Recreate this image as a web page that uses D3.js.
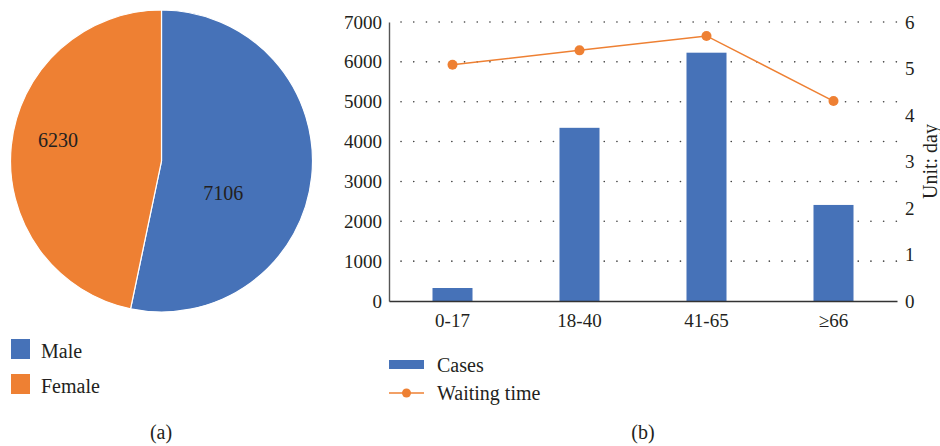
<!DOCTYPE html>
<html>
<head>
<meta charset="utf-8">
<script src="https://cdn.jsdelivr.net/npm/d3@7"></script>
<style>
  body { margin: 0; background: #fff; }
  svg text { font-family: "Liberation Serif", "DejaVu Serif", serif; fill: #231f20; }
</style>
</head>
<body>
<svg id="fig" width="940" height="446"></svg>
<script>
// pie data (a)
const genders = ["Male", "Female"];
const genderCounts = [7106, 6230];

// bar + line data (b)
const ageGroups = ["0-17", "18-40", "41-65", "≥66"];
const cases = [326, 4345, 6230, 2410];
const waitingTime = [5.08, 5.39, 5.7, 4.3];
const leftTicks = [0, 1000, 2000, 3000, 4000, 5000, 6000, 7000];
const rightTicks = [0, 1, 2, 3, 4, 5, 6];

const blue = "#4672b8";
const orange = "#ee8033";
const fontFamily = "'Liberation Serif', 'DejaVu Serif', serif";
const fontSize = 20;
const tickSize = 19;

const svg = d3.select("svg#fig");

// ---------- (a) pie ----------
const pieG = svg.append("g").attr("transform", "translate(161.5,161)");
const radius = 151;
const color = d3.scaleOrdinal(genders, [blue, orange]);

const pie = d3.pie().sort(null).value((d) => d.value);
const arcs = pie(genders.map((g, i) => ({ name: g, value: genderCounts[i] })));
const arc = d3.arc().innerRadius(0).outerRadius(radius);

pieG.selectAll("path")
  .data(arcs)
  .join("path")
  .attr("d", arc)
  .attr("fill", (d) => color(d.data.name))
  .attr("stroke", "#fff")
  .attr("stroke-width", 1.2);

// "best fit" style label placement: radius fraction and angle shift per slice
const labelFit = [{ r: 0.46, shift: 0.37 }, { r: 0.7, shift: 0.1 }];
pieG.selectAll("text.val")
  .data(arcs)
  .join("text")
  .attr("class", "val")
  .attr("transform", (d, i) => {
    const a = (d.startAngle + d.endAngle) / 2 + labelFit[i].shift;
    const r = radius * labelFit[i].r;
    return `translate(${r * Math.sin(a)},${-r * Math.cos(a)})`;
  })
  .attr("text-anchor", "middle")
  .attr("dy", "0.35em")
  .style("font-size", fontSize + "px")
  .text((d) => d.data.value);

const pieLegend = svg.append("g").attr("transform", "translate(11,339)");
const pl = pieLegend.selectAll("g")
  .data(genders)
  .join("g")
  .attr("transform", (d, i) => `translate(0,${i * 35})`);
pl.append("rect").attr("width", 19).attr("height", 20).attr("fill", (d) => color(d));
pl.append("text")
  .attr("x", 30)
  .attr("y", 12)
  .attr("dy", "0.35em")
  .style("font-size", fontSize + "px")
  .text((d) => d);

svg.append("text")
  .attr("x", 161).attr("y", 432).attr("dy", "0.35em")
  .attr("text-anchor", "middle")
  .style("font-size", fontSize + "px")
  .text("(a)");

// ---------- (b) bar + line ----------
const margin = { left: 389, right: 43, top: 22, bottom: 145 };
const chartWidth = 940 - margin.left - margin.right;
const chartHeight = 446 - margin.top - margin.bottom;

const chart = svg.append("g").attr("transform", `translate(${margin.left},${margin.top})`);

const x = d3.scaleBand(ageGroups, [0, chartWidth]).paddingInner(0.685).paddingOuter(0.3425);
const y = d3.scaleLinear([0, 7000], [chartHeight, 0]);
const y2 = d3.scaleLinear([0, 6], [chartHeight, 0]);

// dotted grid
chart.append("g")
  .selectAll("line")
  .data(leftTicks.filter((d) => d > 0))
  .join("line")
  .attr("x1", 12).attr("x2", chartWidth)
  .attr("y1", (d) => y(d)).attr("y2", (d) => y(d))
  .attr("stroke", "#444")
  .attr("stroke-width", 1.6)
  .attr("stroke-linecap", "round")
  .attr("stroke-dasharray", "0.1,12.6");

const styleTicks = (g) => {
  g.attr("font-family", null).attr("font-size", null);
  g.selectAll("text")
    .style("font-family", fontFamily)
    .style("font-size", tickSize + "px")
    .style("fill", "#231f20");
};

// left axis
chart.append("g")
  .call(d3.axisLeft(y).tickValues(leftTicks).tickFormat(d3.format("d")).tickSize(0).tickPadding(7))
  .call((g) => g.select(".domain").attr("stroke", "#555").attr("stroke-width", 1.4))
  .call(styleTicks);

// right axis (labels only)
chart.append("g")
  .attr("transform", `translate(${chartWidth},0)`)
  .call(d3.axisRight(y2).tickValues(rightTicks).tickFormat(d3.format("d")).tickSize(0).tickPadding(8))
  .call((g) => g.select(".domain").remove())
  .call(styleTicks);

chart.append("text")
  .attr("transform", `translate(${chartWidth + 33},${chartHeight / 2}) rotate(-90)`)
  .attr("text-anchor", "middle")
  .attr("dy", "0.35em")
  .style("font-size", fontSize + "px")
  .text("Unit: day");

// bars
chart.selectAll("rect.bar")
  .data(ageGroups.map((g, i) => ({ group: g, value: cases[i] })))
  .join("rect")
  .attr("class", "bar")
  .attr("x", (d) => x(d.group))
  .attr("width", x.bandwidth())
  .attr("y", (d) => y(d.value))
  .attr("height", (d) => chartHeight - y(d.value))
  .attr("fill", blue);

// bottom axis
chart.append("g")
  .attr("transform", `translate(0,${chartHeight})`)
  .call(d3.axisBottom(x).tickSize(0).tickPadding(13))
  .call((g) => g.select(".domain").attr("stroke", "#333").attr("stroke-width", 1.4))
  .call(styleTicks);

// waiting time line
const pts = ageGroups.map((g, i) => ({ group: g, value: waitingTime[i] }));
const line = d3.line()
  .x((d) => x(d.group) + x.bandwidth() / 2)
  .y((d) => y2(d.value));

chart.append("path")
  .attr("d", line(pts))
  .attr("fill", "none")
  .attr("stroke", orange)
  .attr("stroke-width", 1.5);

chart.selectAll("circle")
  .data(pts)
  .join("circle")
  .attr("cx", (d) => x(d.group) + x.bandwidth() / 2)
  .attr("cy", (d) => y2(d.value))
  .attr("r", 5)
  .attr("fill", orange);

// legend (b)
const legB = svg.append("g").attr("transform", "translate(389,0)");
legB.append("rect").attr("x", 0).attr("y", 360).attr("width", 35).attr("height", 9).attr("fill", blue);
legB.append("text").attr("x", 48).attr("y", 365).attr("dy", "0.35em")
  .style("font-size", fontSize + "px").text("Cases");
legB.append("line").attr("x1", 0).attr("x2", 35).attr("y1", 393).attr("y2", 393)
  .attr("stroke", orange).attr("stroke-width", 1.5);
legB.append("circle").attr("cx", 17.5).attr("cy", 393).attr("r", 4.5).attr("fill", orange);
legB.append("text").attr("x", 48).attr("y", 393).attr("dy", "0.35em")
  .style("font-size", fontSize + "px").text("Waiting time");

svg.append("text")
  .attr("x", 643).attr("y", 432).attr("dy", "0.35em")
  .attr("text-anchor", "middle")
  .style("font-size", fontSize + "px")
  .text("(b)");
</script>
</body>
</html>
